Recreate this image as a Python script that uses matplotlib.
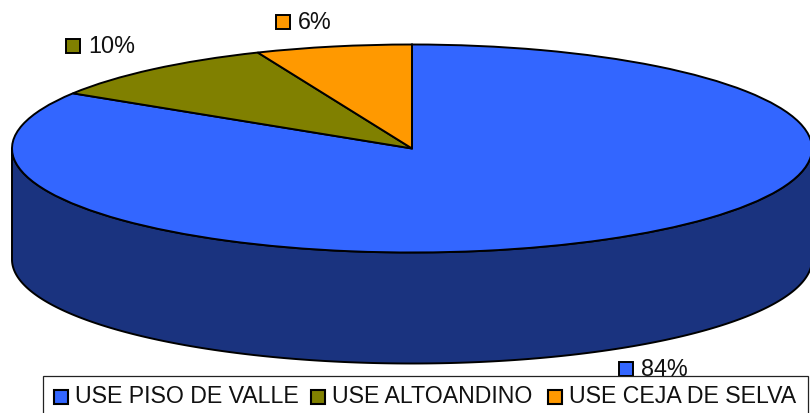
import numpy as np
import matplotlib
matplotlib.use("Agg")
import matplotlib.pyplot as plt
from matplotlib.patches import Rectangle

plt.rcParams['font.family'] = ['Liberation Sans', 'DejaVu Sans']

categories = ['USE PISO DE VALLE', 'USE ALTOANDINO', 'USE CEJA DE SELVA']
# shares, the labels show them rounded
values = [83.9, 9.8, 6.3]
labels = ['84%', '10%', '6%']
colors = ['#3366FF', '#808000', '#FF9900']
side_color = '#1A337F'

W, H = 810, 414
dpi = 100

# pie geometry in pixels
cx, cy = 412, 149.5
rx, ry = 400, 104
depth = 111

fig = plt.figure(figsize=(W / dpi, H / dpi), dpi=dpi)
ax = fig.add_axes([(cx - rx) / W, 1 - (cy + ry) / H, 2 * rx / W, 2 * ry / H])

wedges, _ = ax.pie(values, colors=colors, startangle=90, counterclock=False,
                   radius=1.0, wedgeprops=dict(edgecolor='k', linewidth=1.4, clip_on=False))
ax.set_aspect('auto')
ax.set_xlim(-1, 1)
ax.set_ylim(-1, 1)

# side wall below the top ellipse
th = np.linspace(np.pi, 2 * np.pi, 300)
xs = np.cos(th)
ys = np.sin(th)
d = depth / ry
ax.fill(np.r_[xs, xs[::-1]], np.r_[ys, ys[::-1] - d], fc=side_color, ec='k',
        lw=1.4, clip_on=False, zorder=0.5)

# data labels with their little squares, placed in pixels
ov = fig.add_axes([0, 0, 1, 1], facecolor='none')
ov.set_xlim(0, W)
ov.set_ylim(H, 0)
ov.axis('off')
label_pos = [(619, 370), (66, 47), (276, 23)]
for lab, col, (x, y) in zip(labels, colors, label_pos):
    ov.add_patch(Rectangle((x, y - 7), 14, 14, fc=col, ec='k', lw=1.4))
    ov.text(x + 22, y - 0.5, lab, fontsize=16.8, va='center', ha='left', color='#111111')

# legend box runs off the bottom of the image
ov.add_patch(Rectangle((43, 377), 765, 60, fc='white', ec='#222222', lw=0.9, clip_on=True, zorder=3))
leg_x = [54, 311, 548]
for name, col, x in zip(categories, colors, leg_x):
    ov.add_patch(Rectangle((x, 391), 14, 14, fc=col, ec='k', lw=1.5, zorder=4))
    ov.text(x + 21, 397, name, fontsize=16.7, va='center', ha='left', color='#111111', zorder=4)

fig.savefig('out.png', dpi=dpi)
